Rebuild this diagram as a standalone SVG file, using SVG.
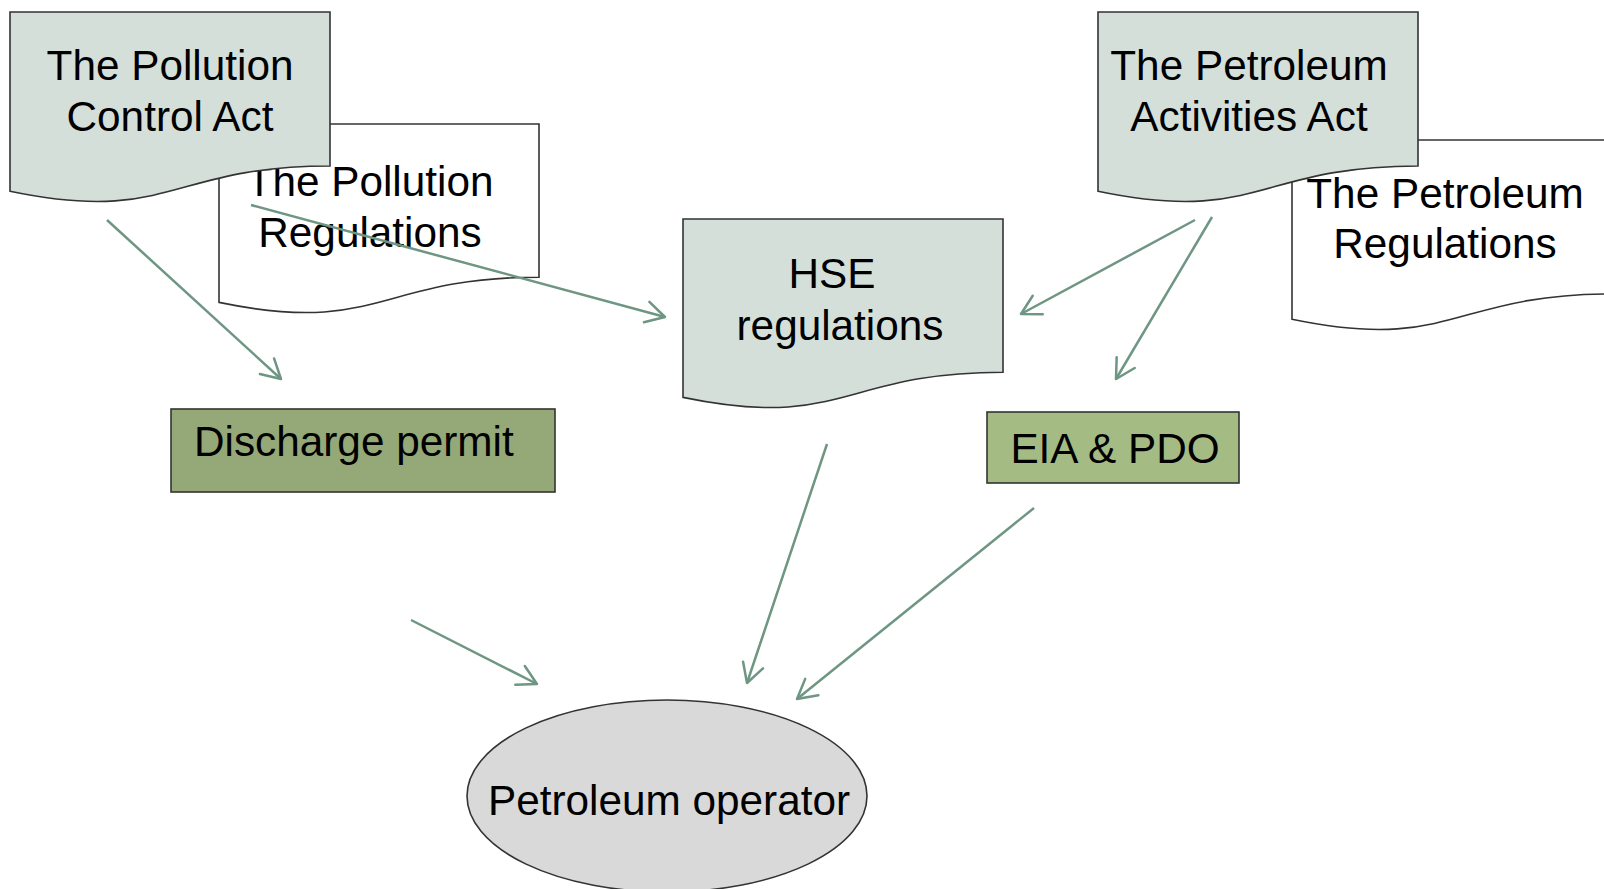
<svg xmlns="http://www.w3.org/2000/svg" width="1604" height="889" viewBox="0 0 1604 889">
<defs>
<style>
.doc{stroke:#333;stroke-width:1.6}
.act{fill:#D5DFDA}
.reg{fill:#FFFFFF}
.t{font-family:"Liberation Sans",Arial,sans-serif;font-size:42.3px;fill:#000;text-anchor:middle}
.box{stroke:#333;stroke-width:1.6}
.con line{stroke:#6E9683;stroke-width:2.5;fill:none;marker-end:url(#arr)}
</style>
<marker id="arr" markerUnits="userSpaceOnUse" viewBox="0 0 24 24" markerWidth="24" markerHeight="24" refX="21" refY="12" orient="auto" overflow="visible">
<path d="M2,1.5 L21,12 L2,22.5" fill="none" stroke="#6E9683" stroke-width="2.5" stroke-linecap="round" stroke-linejoin="round"/>
</marker>
</defs>
<rect width="1604" height="889" fill="#FFFFFF"/>
<g id="pollution-regulations">
<path class="doc reg" d="M219,124 H539 V277.2 C379,277.2 379,335.6 219,302.4 Z"/>
<text class="t" x="370" y="196">The Pollution</text>
<text class="t" x="370" y="247">Regulations</text>
</g>
<g id="pollution-control-act">
<path class="doc act" d="M10,12 H330 V166 C170,166 170,224.7 10,191.3 Z"/>
<text class="t" x="170" y="80">The Pollution</text>
<text class="t" x="170" y="131">Control Act</text>
</g>
<g id="petroleum-regulations">
<path class="doc reg" d="M1292,140 H1612 V294 C1452,294 1452,352.7 1292,319.3 Z"/>
<text class="t" x="1445" y="208">The Petroleum</text>
<text class="t" x="1445" y="258">Regulations</text>
</g>
<g id="petroleum-activities-act">
<path class="doc act" d="M1098,12 H1418 V166 C1258,166 1258,224.7 1098,191.3 Z"/>
<text class="t" x="1249" y="80">The Petroleum</text>
<text class="t" x="1249" y="131">Activities Act</text>
</g>
<g id="hse-regulations">
<path class="doc act" d="M683,219 H1003 V372.2 C843,372.2 843,430.6 683,397.4 Z"/>
<text class="t" x="832" y="288">HSE</text>
<text class="t" x="840" y="340">regulations</text>
</g>
<g id="discharge-permit">
<rect class="box" x="171" y="409" width="384" height="83" fill="#95A878"/>
<text class="t" x="194" y="456" style="text-anchor:start">Discharge permit</text>
</g>
<g id="eia-pdo">
<rect class="box" x="987" y="412" width="252" height="71" fill="#A4BC84"/>
<text class="t" x="1115" y="463">EIA &amp; PDO</text>
</g>
<g id="petroleum-operator">
<ellipse cx="667" cy="796" rx="200" ry="96" fill="#D9D9D9" stroke="#333" stroke-width="1.6"/>
<text class="t" x="669" y="815">Petroleum operator</text>
</g>
<g id="connectors" class="con">
<line x1="107" y1="220" x2="281" y2="379"/>
<line x1="251" y1="205" x2="665" y2="317"/>
<line x1="1195" y1="220" x2="1021" y2="314"/>
<line x1="1212" y1="217" x2="1116" y2="379"/>
<line x1="827" y1="444" x2="747" y2="683"/>
<line x1="1034" y1="508" x2="797" y2="699"/>
<line x1="411" y1="620" x2="537" y2="684"/>
</g>
</svg>
